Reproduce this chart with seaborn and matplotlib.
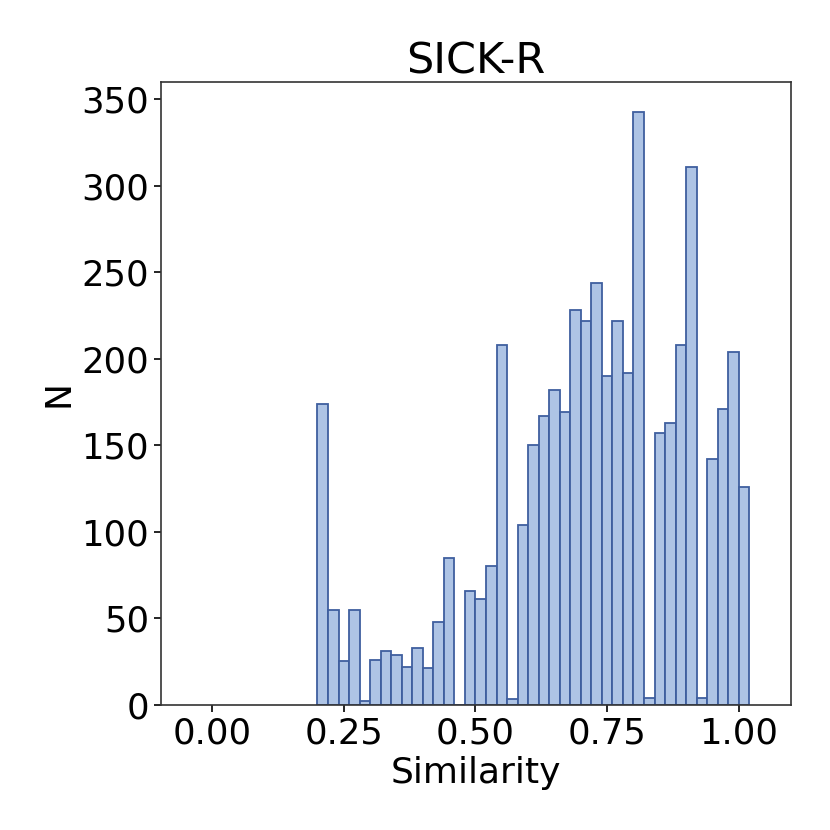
import numpy as np
import pandas as pd
import matplotlib
matplotlib.use("Agg")
import matplotlib.pyplot as plt
import seaborn as sns

# histogram bins (left edges, width 0.02) and counts
bin_left = [0.20, 0.22, 0.24, 0.26, 0.28, 0.30, 0.32, 0.34, 0.36, 0.38,
            0.40, 0.42, 0.44, 0.46, 0.48, 0.50, 0.52, 0.54, 0.56, 0.58,
            0.60, 0.62, 0.64, 0.66, 0.68, 0.70, 0.72, 0.74, 0.76, 0.78,
            0.80, 0.82, 0.84, 0.86, 0.88, 0.90, 0.92, 0.94, 0.96, 0.98,
            1.00]
counts = [174, 55, 25, 55, 2, 26, 31, 29, 22, 33,
          21, 48, 85, 0, 66, 61, 80, 208, 3, 104,
          150, 167, 182, 169, 228, 222, 244, 190, 222, 192,
          343, 4, 157, 163, 208, 311, 4, 142, 171, 204,
          126]
bin_width = 0.02

edges = [round(b, 4) for b in bin_left] + [round(bin_left[-1] + bin_width, 4)]
df = pd.DataFrame({"Similarity": np.array(bin_left) + bin_width / 2, "N": counts})

sns.set_style("ticks")
plt.rcParams["font.family"] = ["DejaVu Sans"]
plt.rcParams["text.color"] = "black"
plt.rcParams["axes.labelcolor"] = "black"
plt.rcParams["xtick.color"] = "black"
plt.rcParams["ytick.color"] = "black"

fig, ax = plt.subplots(figsize=(8.3, 8.3), dpi=100)
fig.subplots_adjust(left=0.194, right=0.953, top=0.901, bottom=0.151)

sns.histplot(
    data=df,
    x="Similarity",
    weights="N",
    bins=edges,
    color="#aec4e5",
    edgecolor="#3f5f9f",
    linewidth=1.3,
    alpha=1,
    ax=ax
)

ax.set_xlim(-0.097, 1.099)
ax.set_ylim(0, 360)
ax.set_xticks([0.0, 0.25, 0.5, 0.75, 1.0])
ax.set_xticklabels(["0.00", "0.25", "0.50", "0.75", "1.00"])
ax.set_yticks(range(0, 351, 50))
ax.tick_params(labelsize=25.5, length=5, width=1.2, colors="black")

for s in ax.spines.values():
    s.set_visible(True)
    s.set_color("#333333")
    s.set_linewidth(1.2)

ax.set_xlabel("Similarity", fontsize=26, color="black")
ax.set_ylabel("N", fontsize=26, color="black")
ax.set_title("SICK-R", fontsize=31, color="black")

plt.savefig("out.png", dpi=100)
